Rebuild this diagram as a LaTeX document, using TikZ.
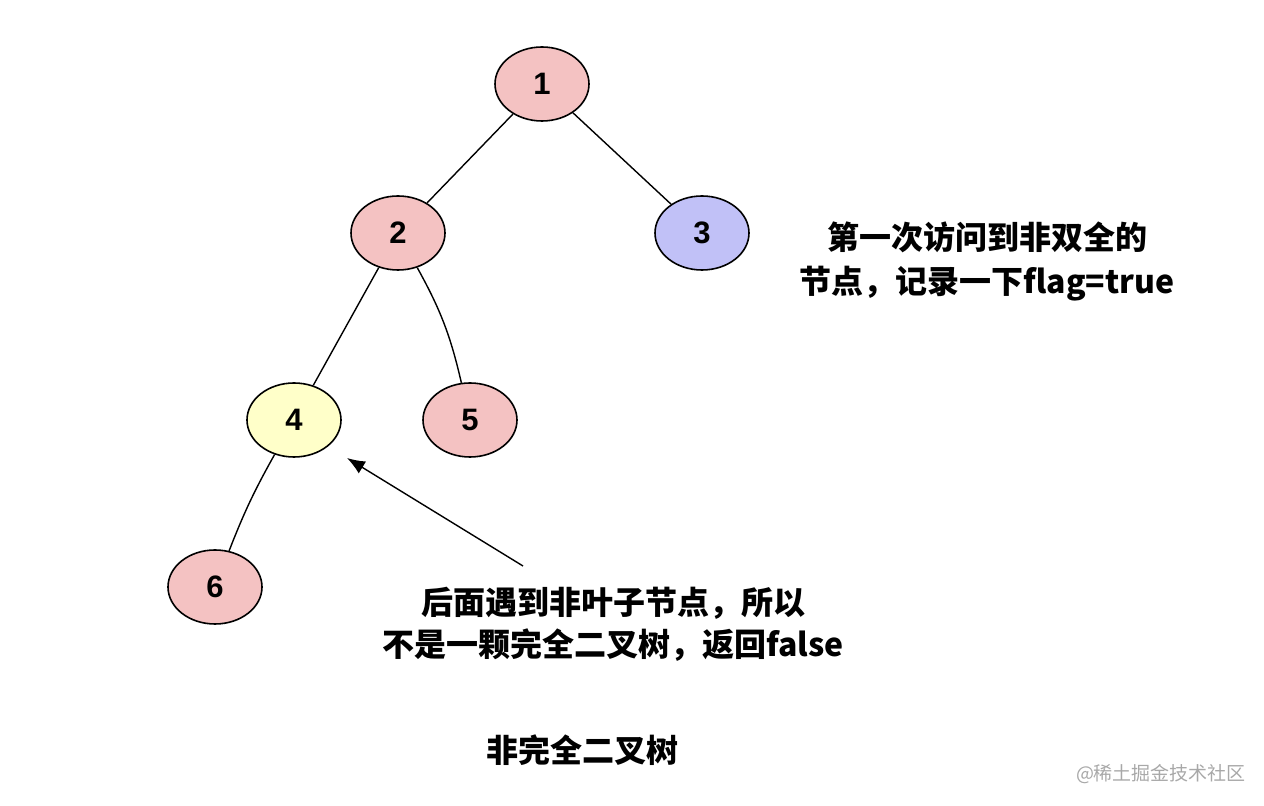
\documentclass[tikz,border=0pt]{standalone}
\usepackage{fontspec}
\setmainfont{Liberation Sans}
\newfontfamily\cjk{Noto Sans CJK SC}
\usetikzlibrary{arrows.meta,shapes.geometric}
\definecolor{pinkf}{HTML}{F4C2C2}
\definecolor{bluef}{HTML}{C1C1F7}
\definecolor{yellowf}{HTML}{FFFFC9}
\definecolor{wmgray}{HTML}{A8A8A8}
\tikzset{
  tnode/.style={ellipse,draw=black,line width=0.8pt,minimum width=47pt,minimum height=37pt,inner sep=0pt,font=\fontsize{15.5}{17}\selectfont\bfseries},
  edge/.style={draw=black,line width=0.7pt},
  note/.style={align=center,font=\cjk\bfseries\fontsize{16}{22}\selectfont},
}
\begin{document}
\begin{tikzpicture}[x=0.5pt,y=-0.5pt]
\useasboundingbox (0,0) rectangle (1264,806);
\node[tnode,fill=pinkf] (n1) at (542,84) {1};
\node[tnode,fill=pinkf] (n2) at (398,233) {2};
\node[tnode,fill=bluef] (n3) at (702,233) {3};
\node[tnode,fill=yellowf] (n4) at (294,420) {4};
\node[tnode,fill=pinkf] (n5) at (470,420) {5};
\node[tnode,fill=pinkf] (n6) at (215,587) {6};
\draw[edge] (n1) -- (n2);
\draw[edge] (n1) -- (n3);
\draw[edge] (n2) -- (n4);
\draw[edge] (n2) to[bend left=8] (n5);
\draw[edge] (n4) to[bend right=4] (n6);
\node[note] (t1) at (987,261) {第一次访问到非双全的\\节点，记录一下flag=true};
\node[note,font=\cjk\bfseries\fontsize{16}{21}\selectfont] (t2) at (613,624) {后面遇到非叶子节点，所以\\不是一颗完全二叉树，返回false};
\node[note] (t3) at (582,750) {非完全二叉树};
\coordinate (as) at (523,566);
\coordinate (ae) at (347,458);
\draw[edge,-{Latex[length=9pt,width=7pt]}] (as) -- (ae);
\node[font=\cjk\fontsize{9.5}{11}\selectfont,text=wmgray] (wm) at (1161,774) {@稀土掘金技术社区};
\end{tikzpicture}
\end{document}
